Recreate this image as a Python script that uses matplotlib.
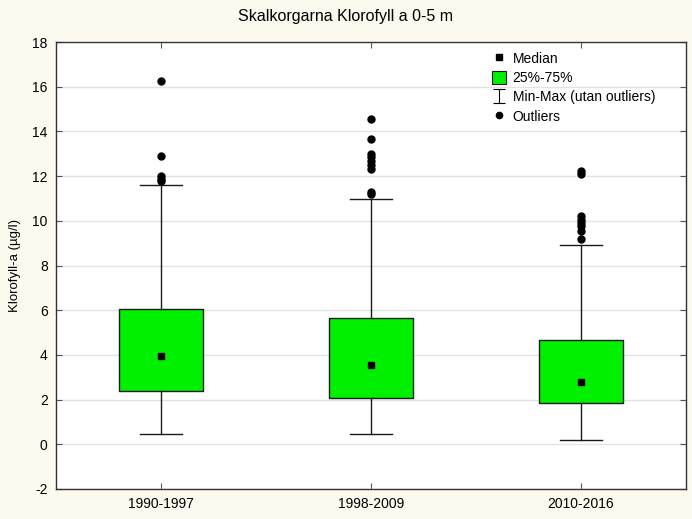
import matplotlib.pyplot as plt
import numpy as np
from matplotlib.lines import Line2D
from matplotlib.patches import Patch
from matplotlib.path import Path

plt.rcParams['font.family'] = ['Liberation Sans', 'DejaVu Sans']
plt.rcParams['axes.unicode_minus'] = False

# Data
periods = ['1990-1997', '1998-2009', '2010-2016']
q1 = [2.39, 2.07, 1.86]
q3 = [6.07, 5.67, 4.68]
medians = [3.94, 3.56, 2.79]
wmin = [0.48, 0.48, 0.18]
wmax = [11.6, 10.99, 8.9]
outliers = [
    [16.27, 12.89, 11.99, 11.85, 11.77],
    [14.57, 13.68, 13.0, 12.85, 12.68, 12.5, 12.32, 11.28, 11.2],
    [12.23, 12.08, 10.2, 10.05, 9.9, 9.75, 9.55, 9.2],
]

bg = '#fcf9ee'
green = '#00f000'

fig = plt.figure(figsize=(6.92, 5.19), dpi=100, facecolor=bg)
ax = fig.add_axes([56 / 692, 1 - 489 / 519, 630 / 692, 447 / 519])
ax.set_facecolor('white')

positions = np.arange(1, len(periods) + 1)
stats = []
for i, name in enumerate(periods):
    stats.append(dict(label=name, med=medians[i], q1=q1[i], q3=q3[i],
                      whislo=wmin[i], whishi=wmax[i], fliers=outliers[i]))

ax.bxp(stats, positions=positions, widths=0.4, capwidths=0.2,
       patch_artist=True,
       boxprops=dict(facecolor=green, edgecolor='#1a1a1a', linewidth=1),
       whiskerprops=dict(color='#1a1a1a', linewidth=1),
       capprops=dict(color='#1a1a1a', linewidth=1),
       medianprops=dict(visible=False),
       flierprops=dict(marker='o', markerfacecolor='black',
                       markeredgecolor='black', markersize=5))
ax.plot(positions, medians, 's', color='black', markersize=4.5, zorder=5)

ax.set_xlim(0.5, 3.5)
ax.set_ylim(-2, 18)
ax.set_yticks(np.arange(-2, 19, 2))
ax.set_xticks(positions)
ax.set_xticklabels(periods)
ax.yaxis.grid(True, color='#e2e2e2', linewidth=1)
ax.set_axisbelow(True)
ax.tick_params(direction='in', length=4, width=0.8, color='#555555',
               labelsize=10, top=True, right=True, pad=6)
for s in ax.spines.values():
    s.set_color('#333333')
    s.set_linewidth(1)

ax.set_ylabel('Klorofyll-a (µg/l)', fontsize=9.5, labelpad=8)
fig.suptitle('Skalkorgarna Klorofyll a 0-5 m', x=0.5, y=1 - 17 / 519,
             va='center', fontsize=11.5)

cap_path = Path([(-0.9, 1), (0.9, 1), (0, 1), (0, -1), (-0.9, -1), (0.9, -1)],
                [Path.MOVETO, Path.LINETO, Path.MOVETO, Path.LINETO,
                 Path.MOVETO, Path.LINETO])
handles = [
    Line2D([], [], marker='s', color='black', linestyle='none', markersize=4.3),
    Patch(facecolor=green, edgecolor='#1a1a1a', linewidth=0.8),
    Line2D([], [], marker=cap_path, color='black', linestyle='none',
           markersize=10, markerfacecolor='none', markeredgewidth=0.8),
    Line2D([], [], marker='o', color='black', linestyle='none', markersize=4.5),
]
labels = ['Median', '25%-75%', 'Min-Max (utan outliers)', 'Outliers']
ax.legend(handles, labels, loc='upper left', bbox_to_anchor=(0.683, 0.991),
          frameon=False, fontsize=10, handlelength=1.0, handleheight=1.1,
          handletextpad=0.5, labelspacing=0.35, borderaxespad=0)

fig.savefig('out.png', dpi=100, facecolor=bg)
